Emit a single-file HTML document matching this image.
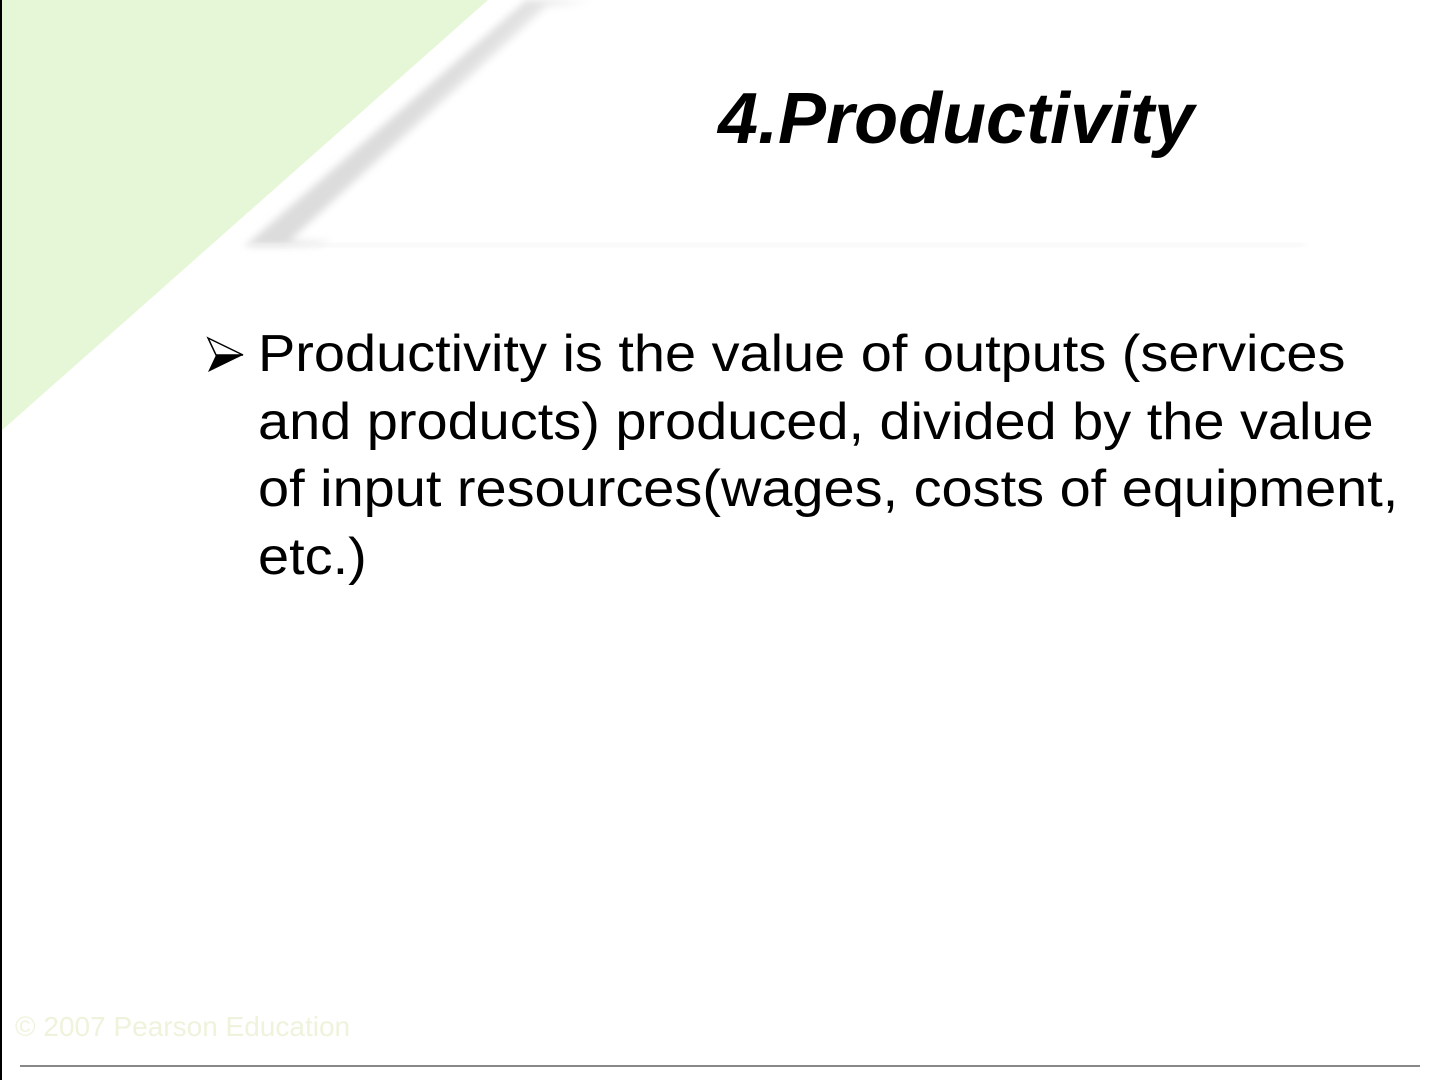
<!DOCTYPE html>
<html><head><meta charset="utf-8"><style>
body{margin:0;width:1440px;height:1080px;background:#fff;position:relative;overflow:hidden;font-family:"Liberation Sans",sans-serif}
.abs{position:absolute}
</style></head><body>
<svg class="abs" style="left:0;top:0" width="1440" height="1080">
<defs>
<linearGradient id="sh" gradientUnits="userSpaceOnUse" x1="525" y1="0" x2="560" y2="35">
<stop offset="0" stop-color="#dcdcdc"/><stop offset="1" stop-color="#ffffff"/></linearGradient>
<filter id="bl"><feGaussianBlur stdDeviation="4"/></filter>
</defs>
<polygon points="0,0 488,0 0,432" fill="#e6f7d8"/>
<polygon points="527,0 600,0 320,246 245,246" fill="url(#sh)" filter="url(#bl)"/>
<polygon points="548,6 1440,6 1440,241 290,241" fill="#fff" filter="url(#bl)"/>
<rect x="245" y="243" width="1060" height="4" fill="#f2f2f2" filter="url(#bl)"/>
<rect x="0" y="0" width="2" height="1080" fill="#000"/>
<rect x="20" y="1065" width="1400" height="2" fill="#888"/>
<polygon points="208,338 243,355 208,372 216,355" fill="#000"/>
<polygon points="208,338 243,355 216,355" fill="#fff" stroke="#000" stroke-width="1.5"/>
</svg>
<div class="abs" style="left:718px;top:78px;font-size:72px;font-weight:bold;font-style:italic;color:#000">4.Productivity</div>
<div class="abs" style="left:258px;top:321px;width:1170px;font-size:52px;line-height:67.5px;color:#000;transform:scaleX(1.075);transform-origin:0 0;white-space:nowrap">Productivity is the value of outputs (services<br>and products) produced, divided by the value<br>of input resources(wages, costs of equipment,<br>etc.)</div>
<div class="abs" style="left:15px;top:1011px;font-size:28px;color:#eef3dc">© 2007 Pearson Education</div>
</body></html>
